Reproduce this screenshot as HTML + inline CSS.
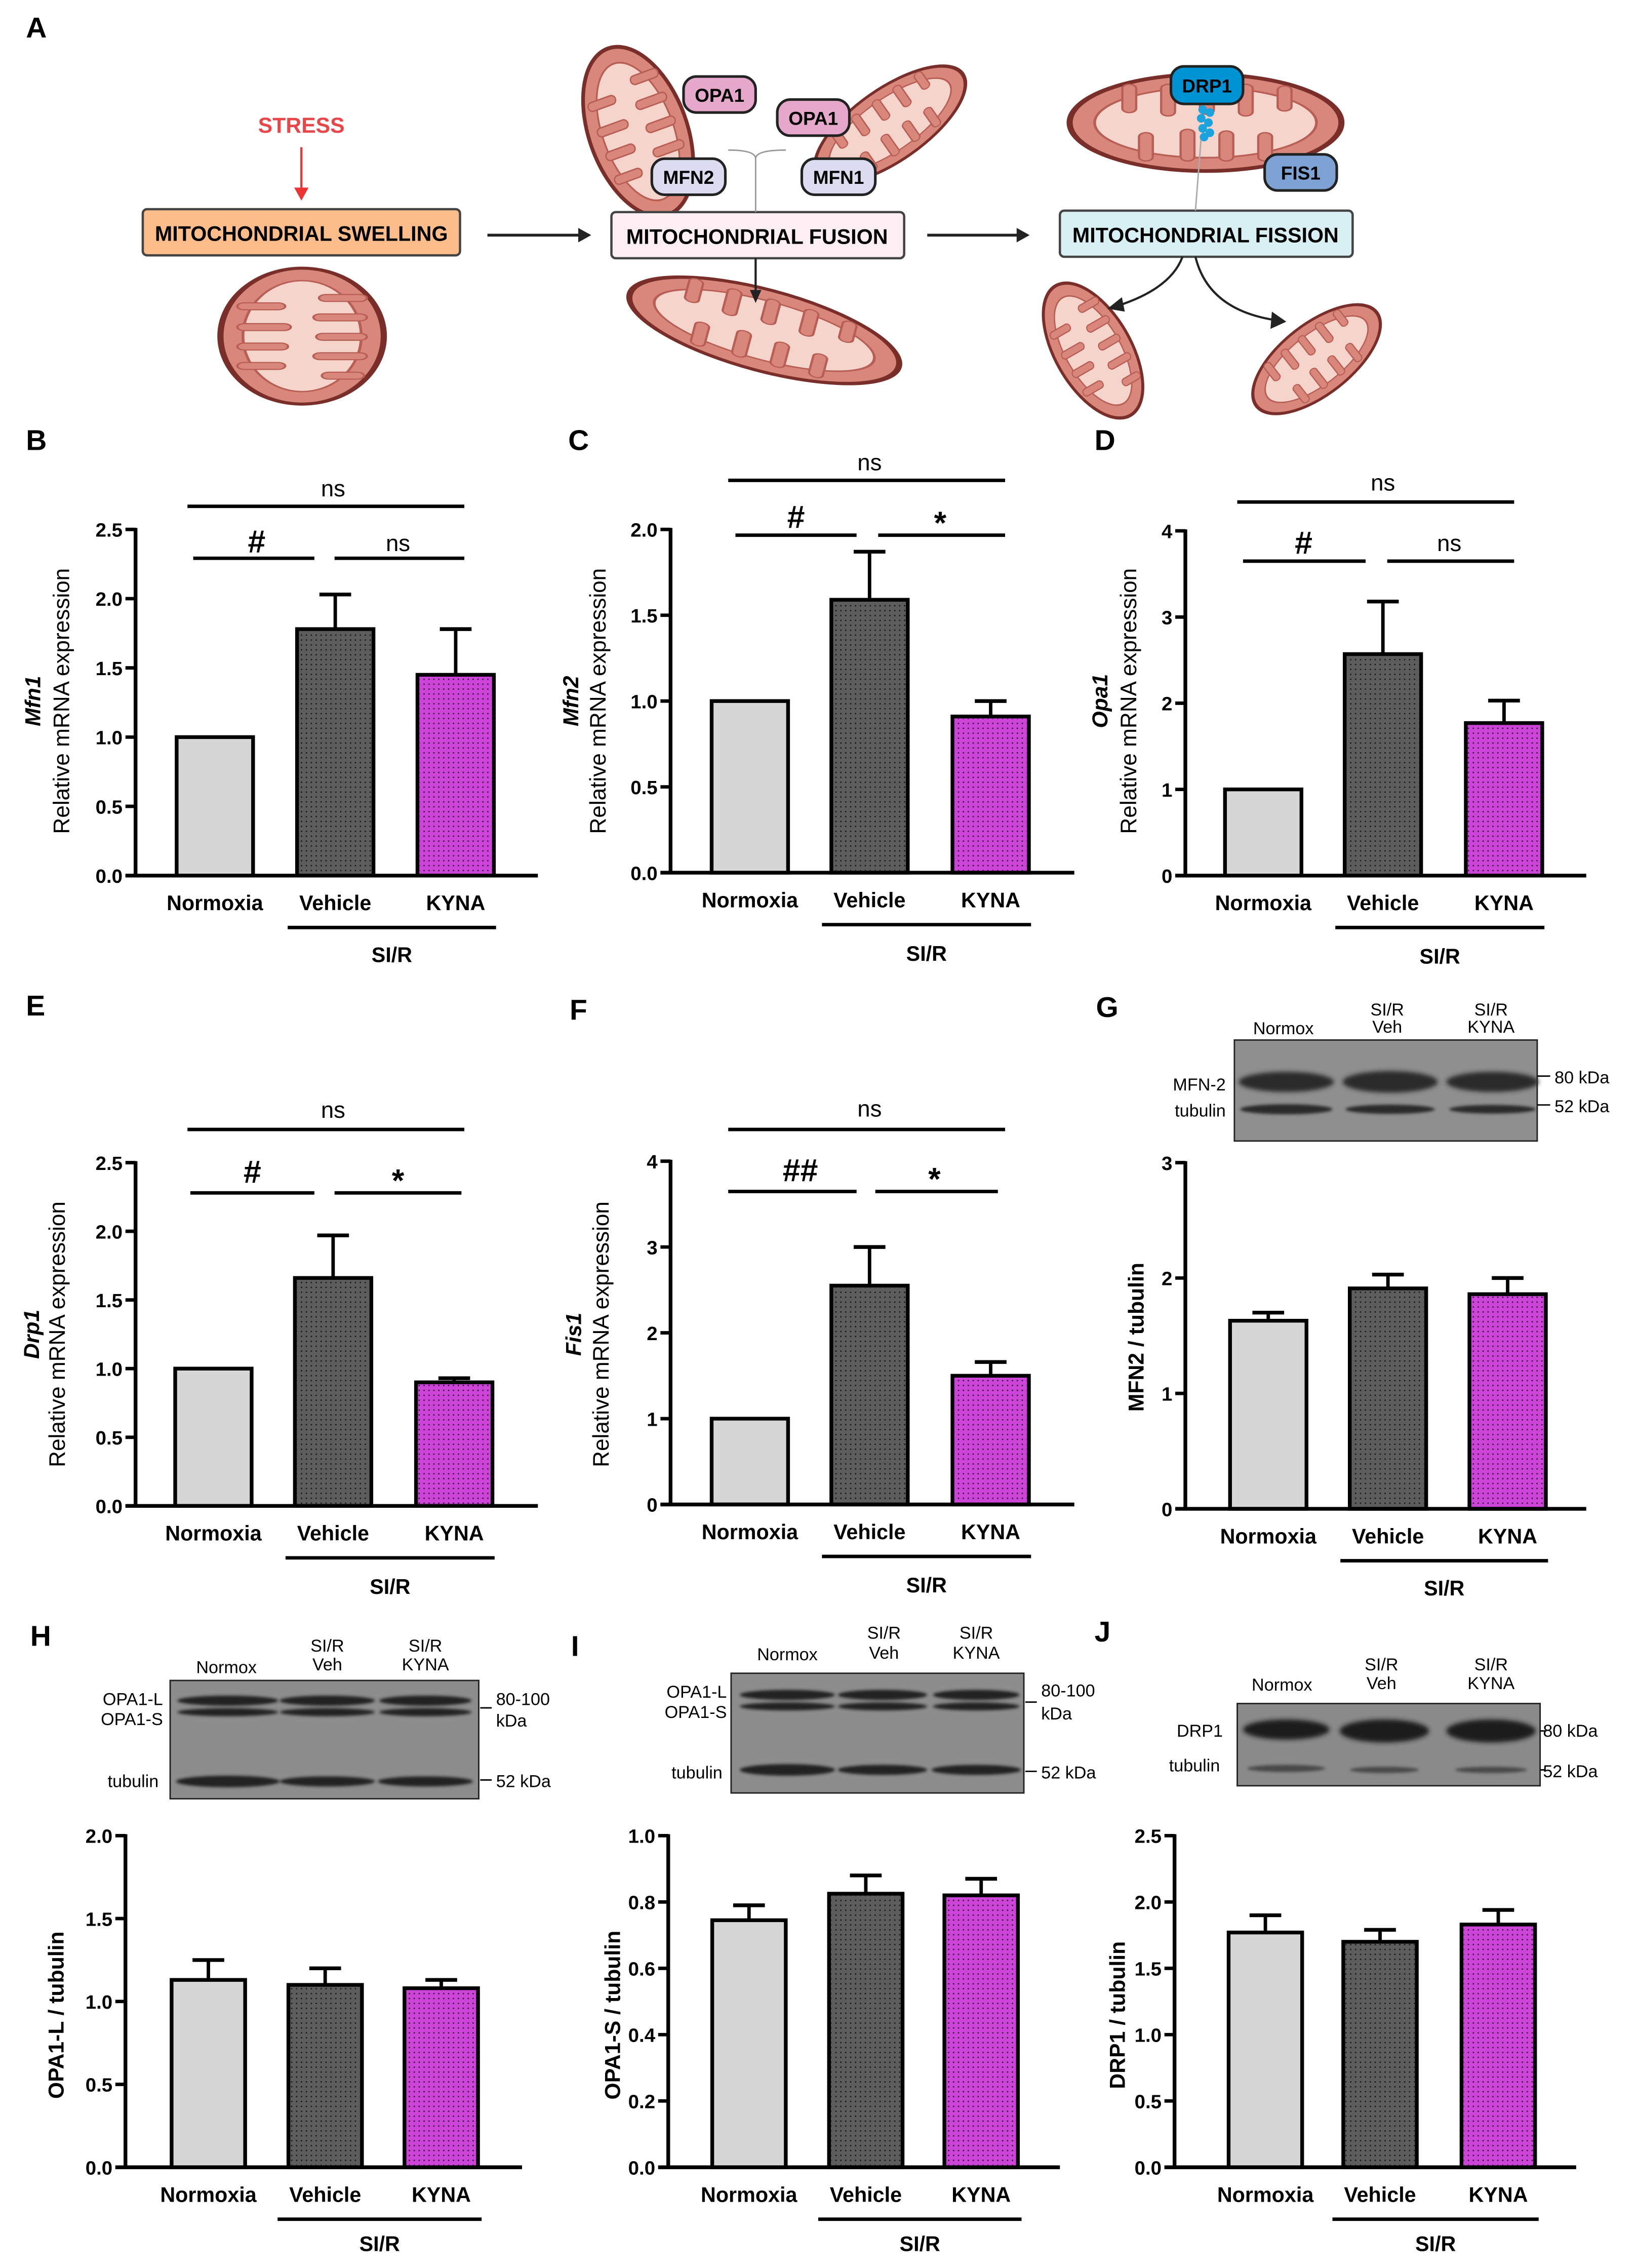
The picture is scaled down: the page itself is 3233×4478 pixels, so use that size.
<!DOCTYPE html>
<html><head><meta charset="utf-8">
<style>
html,body{margin:0;padding:0;background:#fff;}
svg{display:block;}
text{font-family:"Liberation Sans",Arial,sans-serif;}
</style></head>
<body>
<svg id="fig" xmlns="http://www.w3.org/2000/svg" width="3233" height="4478" viewBox="0 0 1135.2 1572.3">
<defs>
  <pattern id="dots" width="3.4" height="3.4" patternUnits="userSpaceOnUse">
    <circle cx="1.7" cy="1.7" r="0.5" fill="#000" opacity="0.75"/>
  </pattern>
  <filter id="blur1" x="-20%" y="-50%" width="140%" height="200%"><feGaussianBlur stdDeviation="1.6"/></filter>
  <filter id="blur2" x="-20%" y="-50%" width="140%" height="200%"><feGaussianBlur stdDeviation="1"/></filter>
  <symbol id="mito" viewBox="-52 -32 104 64" preserveAspectRatio="none">
    <ellipse cx="0" cy="0" rx="49" ry="29" fill="#d9877b" stroke="#7a2e2a" stroke-width="2.2"/>
    <ellipse cx="0" cy="0" rx="40" ry="21" fill="#f5d4cb" stroke="#b85e55" stroke-width="1"/>
    <g fill="#d9877b" stroke="#b85e55" stroke-width="0.8">
      <rect x="-30" y="-23" width="5" height="17" rx="2.5"/>
      <rect x="-16" y="-23" width="5" height="19" rx="2.5"/>
      <rect x="-2" y="-23" width="5" height="18" rx="2.5"/>
      <rect x="12" y="-23" width="5" height="19" rx="2.5"/>
      <rect x="26" y="-22" width="5" height="15" rx="2.5"/>
      <rect x="-24" y="6" width="5" height="17" rx="2.5"/>
      <rect x="-9" y="4" width="5" height="19" rx="2.5"/>
      <rect x="5" y="5" width="5" height="18" rx="2.5"/>
      <rect x="19" y="6" width="5" height="17" rx="2.5"/>
    </g>
  </symbol>
</defs>

<!-- PANEL A -->
<g>
  <text x="18" y="26" font-size="20" font-weight="bold">A</text>
  <text x="209" y="92" font-size="15" font-weight="bold" fill="#e8474a" text-anchor="middle">STRESS</text>
  <line x1="209" y1="102" x2="209" y2="132" stroke="#e33" stroke-width="1.5"/>
  <polygon points="204,130 214,130 209,139" fill="#e33"/>

  <use href="#mito" x="159.5" y="170.5" width="100" height="125" transform="rotate(90 209.5 233)"/>
  <use href="#mito" x="378" y="54" width="130" height="75" transform="rotate(70 443 91)"/>
  <use href="#mito" x="552" y="59" width="130" height="55" transform="rotate(-35 617 86)"/>
  <use href="#mito" x="427.5" y="198" width="205" height="62" transform="rotate(15 530 229)"/>
  <use href="#mito" x="736" y="48" width="200" height="74"/>
  <use href="#mito" x="703" y="214" width="110" height="58" transform="rotate(60 758 243)"/>
  <use href="#mito" x="857" y="222" width="112" height="54" transform="rotate(-38 913 249)"/>

  <rect x="99" y="145" width="220" height="32" rx="3" fill="#fdbd8b" stroke="#444" stroke-width="1.6"/>
  <text x="209" y="167" font-size="14.5" font-weight="bold" text-anchor="middle">MITOCHONDRIAL SWELLING</text>
  <line x1="338" y1="163" x2="403" y2="163" stroke="#222" stroke-width="2"/>
  <polygon points="401,158 410,163 401,168" fill="#222"/>

  <rect x="424" y="147" width="203" height="32" rx="3" fill="#fdeef4" stroke="#444" stroke-width="1.6"/>
  <text x="525" y="169" font-size="14.5" font-weight="bold" text-anchor="middle">MITOCHONDRIAL FUSION</text>
  <line x1="643" y1="163" x2="707" y2="163" stroke="#222" stroke-width="2"/>
  <polygon points="705,158 714,163 705,168" fill="#222"/>
  <line x1="524" y1="179" x2="524" y2="203" stroke="#222" stroke-width="1.5"/>
  <polygon points="520,201 528,201 524,210" fill="#222"/>
  <path d="M524 147 V108 M505 104 Q524 104 524 110 Q524 104 545 104" stroke="#999" stroke-width="1" fill="none"/>

  <rect x="735" y="146" width="203" height="32" rx="3" fill="#d8f0f3" stroke="#444" stroke-width="1.6"/>
  <text x="836" y="168" font-size="14.5" font-weight="bold" text-anchor="middle">MITOCHONDRIAL FISSION</text>
  <line x1="829" y1="146" x2="833" y2="95" stroke="#aaa" stroke-width="1"/>
  <path d="M820 178 Q812 200 775 212" stroke="#222" stroke-width="1.5" fill="none"/>
  <polygon points="778,206 768,214 780,216" fill="#222"/>
  <path d="M829 178 Q838 215 885 222" stroke="#222" stroke-width="1.5" fill="none"/>
  <polygon points="882,216 892,223 881,228" fill="#222"/>

  <g><rect x="474" y="53" width="50" height="25" rx="9" fill="#e6a8ca" stroke="#222" stroke-width="1.8"/><text x="499" y="70.5" font-size="13" font-weight="bold" text-anchor="middle">OPA1</text></g>
  <g><rect x="539" y="69" width="50" height="25" rx="9" fill="#e6a8ca" stroke="#222" stroke-width="1.8"/><text x="564" y="86.5" font-size="13" font-weight="bold" text-anchor="middle">OPA1</text></g>
  <g><rect x="452" y="110" width="51" height="25" rx="9" fill="#dcdcf0" stroke="#222" stroke-width="1.8"/><text x="477.5" y="127.5" font-size="13" font-weight="bold" text-anchor="middle">MFN2</text></g>
  <g><rect x="556" y="110" width="51" height="25" rx="9" fill="#dcdcf0" stroke="#222" stroke-width="1.8"/><text x="581.5" y="127.5" font-size="13" font-weight="bold" text-anchor="middle">MFN1</text></g>
  <g>
    <g fill="#1aa3dd"><circle cx="834" cy="76" r="3"/><circle cx="839" cy="78" r="3"/><circle cx="833" cy="82" r="3"/><circle cx="838" cy="85" r="3"/><circle cx="834" cy="89" r="3"/><circle cx="839" cy="92" r="3"/><circle cx="835" cy="95" r="3"/></g>
    <rect x="812" y="46" width="50" height="26" rx="9" fill="#0093d3" stroke="#222" stroke-width="1.8"/><text x="837" y="64" font-size="13" font-weight="bold" text-anchor="middle">DRP1</text></g>
  <g><rect x="877" y="107" width="50" height="25" rx="9" fill="#7ea2d4" stroke="#222" stroke-width="1.8"/><text x="902" y="124.5" font-size="13" font-weight="bold" text-anchor="middle">FIS1</text></g>
</g>

<!-- Panel letters -->
<g font-size="20" font-weight="bold">
  <text x="18" y="312">B</text>
  <text x="394" y="312">C</text>
  <text x="759" y="312">D</text>
  <text x="18" y="704">E</text>
  <text x="395" y="707">F</text>
  <text x="760" y="705">G</text>
  <text x="21" y="1141">H</text>
  <text x="396" y="1148">I</text>
  <text x="759" y="1138">J</text>
</g>

<!-- Western blots -->
<g>
  <rect x="856" y="721" width="210" height="70" fill="#8f8f8f" stroke="#222" stroke-width="1"/>
  <g filter="url(#blur1)" fill="#2a2a2a">
    <ellipse cx="892" cy="750" rx="33" ry="7"/><ellipse cx="964" cy="750" rx="33" ry="7.5"/><ellipse cx="1035" cy="750" rx="32" ry="7"/>
  </g>
  <g filter="url(#blur2)" fill="#2a2a2a">
    <ellipse cx="892" cy="769" rx="32" ry="3.5"/><ellipse cx="964" cy="769" rx="31" ry="3.2"/><ellipse cx="1035" cy="769" rx="30" ry="3"/>
  </g>
  <g font-size="12" text-anchor="middle">
    <text x="890" y="717">Normox</text><text x="962" y="704">SI/R</text><text x="962" y="716">Veh</text><text x="1034" y="704">SI/R</text><text x="1034" y="716">KYNA</text>
  </g>
  <g font-size="12" text-anchor="end"><text x="850" y="756">MFN-2</text><text x="850" y="774">tubulin</text></g>
  <g font-size="12"><line x1="1066" y1="746" x2="1075" y2="746" stroke="#000"/><line x1="1066" y1="766" x2="1075" y2="766" stroke="#000"/>
    <text x="1078" y="751">80 kDa</text><text x="1078" y="771">52 kDa</text></g>
</g>
<g>
  <rect x="118" y="1165" width="214" height="82" fill="#8d8d8d" stroke="#222" stroke-width="1"/>
  <g filter="url(#blur2)" fill="#222">
    <ellipse cx="158" cy="1179" rx="35" ry="3.5"/><ellipse cx="227" cy="1179" rx="33" ry="3.5"/><ellipse cx="295" cy="1179" rx="32" ry="3.5"/>
    <ellipse cx="158" cy="1187" rx="35" ry="2.8"/><ellipse cx="227" cy="1187" rx="33" ry="2.8"/><ellipse cx="295" cy="1187" rx="32" ry="2.8"/>
    <ellipse cx="158" cy="1235" rx="36" ry="4"/><ellipse cx="227" cy="1235" rx="33" ry="3.5"/><ellipse cx="295" cy="1235" rx="33" ry="3.5"/>
  </g>
  <g font-size="12" text-anchor="middle"><text x="157" y="1160">Normox</text><text x="227" y="1145">SI/R</text><text x="227" y="1158">Veh</text><text x="295" y="1145">SI/R</text><text x="295" y="1158">KYNA</text></g>
  <g font-size="12" text-anchor="end"><text x="113" y="1182">OPA1-L</text><text x="113" y="1196">OPA1-S</text><text x="110" y="1239">tubulin</text></g>
  <g font-size="12"><line x1="333" y1="1184" x2="341" y2="1184" stroke="#000"/><line x1="333" y1="1234" x2="341" y2="1234" stroke="#000"/>
    <text x="344" y="1182">80-100</text><text x="344" y="1197">kDa</text><text x="344" y="1239">52 kDa</text></g>
</g>
<g>
  <rect x="507" y="1160" width="203" height="83" fill="#8d8d8d" stroke="#222" stroke-width="1"/>
  <g filter="url(#blur2)" fill="#222">
    <ellipse cx="546" cy="1175" rx="33" ry="3.5"/><ellipse cx="612" cy="1175" rx="31" ry="3.5"/><ellipse cx="677" cy="1175" rx="30" ry="3.5"/>
    <ellipse cx="546" cy="1183" rx="33" ry="2.8"/><ellipse cx="612" cy="1183" rx="31" ry="2.8"/><ellipse cx="677" cy="1183" rx="30" ry="2.8"/>
    <ellipse cx="546" cy="1227" rx="33" ry="4"/><ellipse cx="612" cy="1227" rx="31" ry="3.5"/><ellipse cx="677" cy="1227" rx="31" ry="3.5"/>
  </g>
  <g font-size="12" text-anchor="middle"><text x="546" y="1151">Normox</text><text x="613" y="1136">SI/R</text><text x="613" y="1150">Veh</text><text x="677" y="1136">SI/R</text><text x="677" y="1150">KYNA</text></g>
  <g font-size="12" text-anchor="end"><text x="504" y="1177">OPA1-L</text><text x="504" y="1191">OPA1-S</text><text x="501" y="1233">tubulin</text></g>
  <g font-size="12"><line x1="711" y1="1180" x2="719" y2="1180" stroke="#000"/><line x1="711" y1="1228" x2="719" y2="1228" stroke="#000"/>
    <text x="722" y="1176">80-100</text><text x="722" y="1192">kDa</text><text x="722" y="1233">52 kDa</text></g>
</g>
<g>
  <rect x="858" y="1181" width="210" height="57" fill="#8a8a8a" stroke="#222" stroke-width="1"/>
  <g filter="url(#blur1)" fill="#1e1e1e">
    <ellipse cx="892" cy="1199" rx="30" ry="7"/><ellipse cx="960" cy="1200" rx="31" ry="8"/><ellipse cx="1034" cy="1200" rx="31" ry="8"/>
  </g>
  <g filter="url(#blur2)" fill="#4a4a4a">
    <ellipse cx="892" cy="1226" rx="27" ry="2.5"/><ellipse cx="960" cy="1227" rx="24" ry="2.2"/><ellipse cx="1034" cy="1227" rx="25" ry="2.2"/>
  </g>
  <g font-size="12" text-anchor="middle"><text x="889" y="1172">Normox</text><text x="958" y="1158">SI/R</text><text x="958" y="1171">Veh</text><text x="1034" y="1158">SI/R</text><text x="1034" y="1171">KYNA</text></g>
  <g font-size="12" text-anchor="end"><text x="848" y="1204">DRP1</text><text x="846" y="1228">tubulin</text></g>
  <g font-size="12"><line x1="1068" y1="1200" x2="1072" y2="1200" stroke="#000"/><line x1="1068" y1="1227" x2="1072" y2="1227" stroke="#000"/>
    <text x="1070" y="1204">80 kDa</text><text x="1070" y="1232">52 kDa</text></g>
</g>

<g id="charts"></g>
</svg>

<script>
// ---- data ----
const categories = ["Normoxia", "Vehicle", "KYNA"];
const mfn1Values = [1.0, 1.78, 1.45];
const mfn1Errors = [0, 0.25, 0.33];
const mfn2Values = [1.0, 1.59, 0.91];
const mfn2Errors = [0, 0.28, 0.09];
const opa1Values = [1.0, 2.57, 1.77];
const opa1Errors = [0, 0.61, 0.26];
const drp1Values = [1.0, 1.66, 0.90];
const drp1Errors = [0, 0.31, 0.03];
const fis1Values = [1.0, 2.55, 1.50];
const fis1Errors = [0, 0.45, 0.16];
const mfn2ProtValues = [1.63, 1.91, 1.86];
const mfn2ProtErrors = [0.07, 0.12, 0.14];
const opa1LValues = [1.13, 1.10, 1.08];
const opa1LErrors = [0.12, 0.10, 0.05];
const opa1SValues = [0.745, 0.825, 0.82];
const opa1SErrors = [0.045, 0.055, 0.05];
const drp1ProtValues = [1.77, 1.70, 1.83];
const drp1ProtErrors = [0.13, 0.09, 0.11];
const ticksHalf25 = ["0.0", "0.5", "1.0", "1.5", "2.0", "2.5"];
const ticksHalf20 = ["0.0", "0.5", "1.0", "1.5", "2.0"];
const ticksInt4 = ["0", "1", "2", "3", "4"];
const ticksInt3 = ["0", "1", "2", "3"];
const ticksFrac10 = ["0.0", "0.2", "0.4", "0.6", "0.8", "1.0"];
const mrnaLabel = "Relative mRNA expression";

const NS = "http://www.w3.org/2000/svg";
const root = document.getElementById("charts");
function mk(tag, attrs, parent) {
  const e = document.createElementNS(NS, tag);
  for (const k in attrs) e.setAttribute(k, attrs[k]);
  (parent || root).appendChild(e);
  return e;
}
const fills = ["#d6d6d6", "#5d5d5d", "#cc45d8"];
const barNames = ["bar-normoxia", "bar-vehicle", "bar-kyna"];

function drawChart(p) {
  const g = mk("g", {});
  
  
  const max = parseFloat(p.ticks[p.ticks.length - 1]);
  const y = v => p.y0 - (v / max) * (p.y0 - p.yTop);
  p.values.forEach((v, i) => {
    const cx = p.x0 + p.offsets[i];
    const top = y(v), errTop = y(v + p.errors[i]);
    if (p.errors[i] > 0) {
      const el = mk("line", {x1: cx, x2: cx, y1: top, y2: errTop, stroke: "#000", "stroke-width": 2.4}, g);
      
      
      const cap = mk("line", {x1: cx - 11, x2: cx + 11, y1: errTop, y2: errTop, stroke: "#000", "stroke-width": 2.6}, g);
      
      
    }
    const r = mk("rect", {x: cx - p.bw / 2, y: top, width: p.bw, height: p.y0 - top, fill: fills[i], stroke: "#000", "stroke-width": 2.6}, g);
    
    
    if (i > 0) {
      const d = mk("rect", {x: cx - p.bw / 2 + 1.5, y: top + 1.5, width: p.bw - 3, height: Math.max(0, p.y0 - top - 3), fill: "url(#dots)"}, g);
      
      
    }
    const t = mk("text", {x: cx, y: p.y0 + 24, "font-size": 14.5, "font-weight": "bold", "text-anchor": "middle"}, g);
    t.textContent = categories[i];
    
    
  });
  const ya = mk("line", {x1: p.x0, x2: p.x0, y1: p.yTop - 1, y2: p.y0 + 1.2, stroke: "#000", "stroke-width": 2.6}, g);
  
  
  const xa = mk("line", {x1: p.x0 - 7, x2: p.xEnd, y1: p.y0, y2: p.y0, stroke: "#000", "stroke-width": 2.6}, g);
  
  
  p.ticks.forEach(tl => {
    const ty = y(parseFloat(tl));
    mk("line", {x1: p.x0 - 7, x2: p.x0, y1: ty, y2: ty, stroke: "#000", "stroke-width": 2.4}, g);
    const t = mk("text", {x: p.x0 - 9, y: ty + 5, "font-size": 13.5, "font-weight": "bold", "text-anchor": "end"}, g);
    t.textContent = tl;
    
    
  });
  const sx1 = p.x0 + p.offsets[1] - 33, sx2 = p.x0 + p.offsets[2] + 28;
  mk("line", {x1: sx1, x2: sx2, y1: p.y0 + 36, y2: p.y0 + 36, stroke: "#000", "stroke-width": 2.4}, g);
  const st = mk("text", {x: (sx1 + sx2) / 2, y: p.y0 + p.sirDy, "font-size": 14.5, "font-weight": "bold", "text-anchor": "middle"}, g);
  st.textContent = "SI/R";
  
  
  if (p.gene) {
    const gt = mk("text", {x: 0, y: 0, "font-size": 15, "font-weight": "bold", "font-style": "italic", "text-anchor": "middle", transform: `translate(${p.glx},${p.lcy}) rotate(-90)`}, g);
    gt.textContent = p.gene;
    
    
    const rt = mk("text", {x: 0, y: 0, "font-size": 15.5, "text-anchor": "middle", transform: `translate(${p.rlx},${p.lcy}) rotate(-90)`}, g);
    rt.textContent = mrnaLabel;
    
    
  } else {
    const rt = mk("text", {x: 0, y: 0, "font-size": 15, "font-weight": "bold", "text-anchor": "middle", transform: `translate(${p.rlx},${p.lcy}) rotate(-90)`}, g);
    rt.textContent = p.ylabel;
    
    
  }
  (p.sig || []).forEach(s => {
    mk("line", {x1: s[0], x2: s[1], y1: s[2], y2: s[2], stroke: "#000", "stroke-width": 2.4}, g);
    const isSym = s[3] !== "ns";
    const t = mk("text", {x: s[4], y: s[5], "font-size": isSym ? 22 : 16, "text-anchor": "middle", "font-weight": isSym ? "bold" : "normal"}, g);
    t.textContent = s[3];
    
    
  });
}

const mrnaOffsets = [55, 138.5, 222];
drawChart({name: "chart-b-mfn1", x0: 94, y0: 607, yTop: 367, xEnd: 373, bw: 53, offsets: mrnaOffsets, values: mfn1Values, errors: mfn1Errors, ticks: ticksHalf25, gene: "Mfn1", glx: 28, rlx: 48, lcy: 486, sirDy: 60,
  sig: [[130, 322, 351, "ns", 231, 344], [134, 218, 387, "#", 178, 383], [232, 322, 387, "ns", 276, 382]]});
drawChart({name: "chart-c-mfn2", x0: 465, y0: 605, yTop: 367, xEnd: 745, bw: 53, offsets: [55, 138, 222], values: mfn2Values, errors: mfn2Errors, ticks: ticksHalf20, gene: "Mfn2", glx: 401, rlx: 420, lcy: 486, sirDy: 61,
  sig: [[505, 697, 333, "ns", 603, 326], [510, 594, 371, "#", 552, 366], [609, 697, 371, "*", 652, 370]]});
drawChart({name: "chart-d-opa1", x0: 822, y0: 607, yTop: 368, xEnd: 1100, bw: 53, offsets: [54, 137, 221], values: opa1Values, errors: opa1Errors, ticks: ticksInt4, gene: "Opa1", glx: 768, rlx: 788, lcy: 486, sirDy: 61,
  sig: [[858, 1050, 348, "ns", 959, 340], [862, 947, 389, "#", 904, 384], [962, 1050, 389, "ns", 1005, 382]]});
drawChart({name: "chart-e-drp1", x0: 94, y0: 1044, yTop: 806, xEnd: 373, bw: 53, offsets: [54, 137, 221], values: drp1Values, errors: drp1Errors, ticks: ticksHalf25, gene: "Drp1", glx: 27, rlx: 45, lcy: 925, sirDy: 61,
  sig: [[130, 322, 783, "ns", 231, 775], [132, 218, 827, "#", 175, 820], [232, 320, 827, "*", 276, 826]]});
drawChart({name: "chart-f-fis1", x0: 465, y0: 1043, yTop: 805, xEnd: 745, bw: 53, offsets: [55, 138, 222], values: fis1Values, errors: fis1Errors, ticks: ticksInt4, gene: "Fis1", glx: 403, rlx: 422, lcy: 925, sirDy: 61,
  sig: [[505, 697, 783, "ns", 603, 774], [505, 594, 826, "##", 555, 819], [607, 692, 826, "*", 648, 825]]});
drawChart({name: "chart-g-mfn2-protein", x0: 822, y0: 1046, yTop: 806, xEnd: 1100, bw: 53, offsets: [57.5, 140.5, 223.5], values: mfn2ProtValues, errors: mfn2ProtErrors, ticks: ticksInt3, ylabel: "MFN2 / tubulin", rlx: 793, lcy: 927, sirDy: 60});
drawChart({name: "chart-h-opa1l", x0: 87, y0: 1502.5, yTop: 1272.6, xEnd: 362, bw: 51, offsets: [57.5, 138.5, 219], values: opa1LValues, errors: opa1LErrors, ticks: ticksHalf20, ylabel: "OPA1-L / tubulin", rlx: 44, lcy: 1397, sirDy: 58});
drawChart({name: "chart-i-opa1s", x0: 463.4, y0: 1502.5, yTop: 1272.6, xEnd: 735, bw: 51, offsets: [56, 137, 217], values: opa1SValues, errors: opa1SErrors, ticks: ticksFrac10, ylabel: "OPA1-S / tubulin", rlx: 430, lcy: 1397, sirDy: 58});
drawChart({name: "chart-j-drp1-protein", x0: 814.5, y0: 1502.5, yTop: 1272.6, xEnd: 1093, bw: 51, offsets: [63, 142.5, 224.5], values: drp1ProtValues, errors: drp1ProtErrors, ticks: ticksHalf25, ylabel: "DRP1 / tubulin", rlx: 780, lcy: 1397, sirDy: 58});
</script>
</body></html>
